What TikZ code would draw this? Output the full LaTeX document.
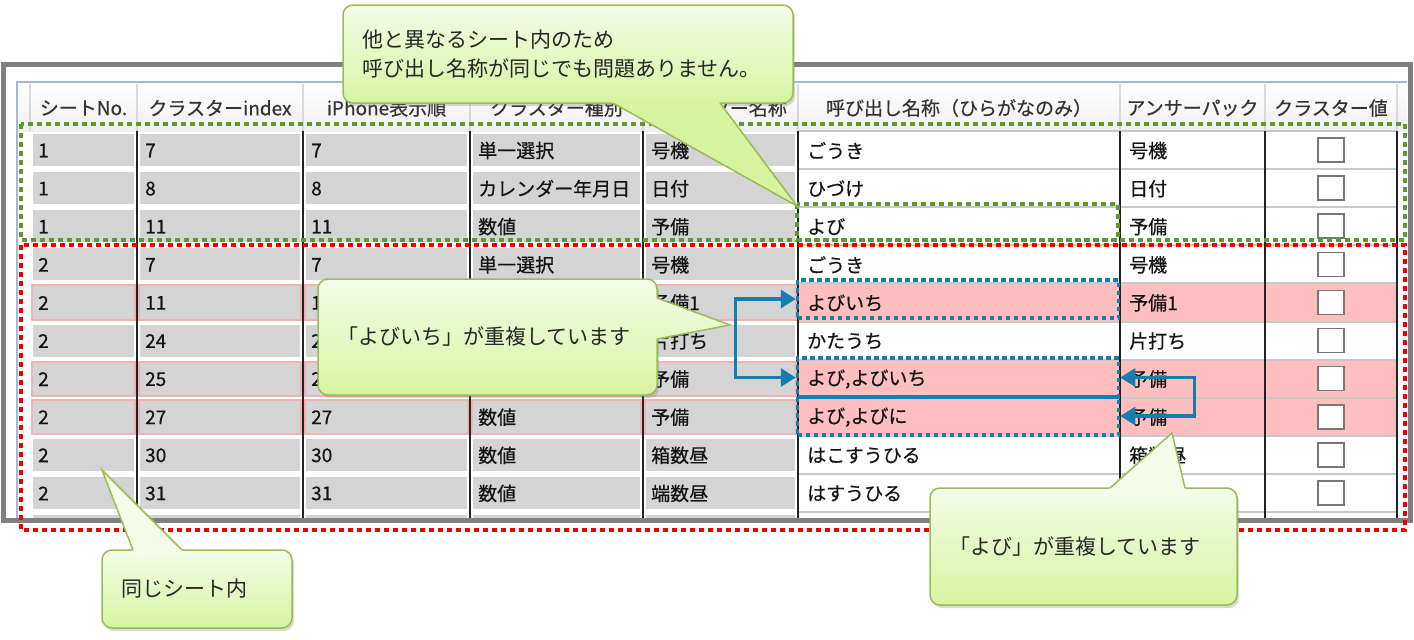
\documentclass[tikz,border=0pt]{standalone}
\usepackage{fontspec}
\setmainfont{Noto Sans CJK JP}
\newfontfamily\gridfont{Noto Sans CJK JP}[FakeBold=0.5]
\usepackage{xcolor}
\usepackage{tikz}
\usetikzlibrary{arrows.meta,positioning,shadows,calc}

\definecolor{framegray}{RGB}{128,128,128}
\definecolor{cellgray}{RGB}{212,212,212}
\definecolor{dupred}{RGB}{255,191,191}
\definecolor{dupedge}{RGB}{240,178,178}
\definecolor{linegray}{RGB}{200,200,200}
\definecolor{sepdark}{RGB}{35,35,35}
\definecolor{tableedge}{RGB}{165,185,205}
\definecolor{okgreen}{RGB}{92,154,44}
\definecolor{ngred}{RGB}{240,0,0}
\definecolor{dupblue}{RGB}{22,125,175}
\definecolor{boxgray}{RGB}{120,120,120}
\definecolor{hinttop}{RGB}{244,252,232}
\definecolor{hintbot}{RGB}{214,244,160}
\definecolor{hintline}{RGB}{155,187,89}
\colorlet{edge0}{white}
\colorlet{edge1}{dupedge}
\colorlet{back0}{white}
\colorlet{back1}{dupred}

\newcommand{\hintpointer}[4]{%
  \path[#4] ($(#1)!-5pt!(#2)$) -- (#2) -- ($(#3)!-5pt!(#2)$) -- cycle;
  \draw[draw=hintline, line width=1.5pt] (#1) -- (#2) -- (#3);}

\begin{document}
\begin{tikzpicture}
[x=1pt, y=-1pt,
 cell/.style={anchor=west, inner sep=0pt, text=black!92, font=\gridfont\fontsize{19pt}{22pt}\selectfont},
 head/.style={inner sep=0pt, text=black!80, font=\gridfont\fontsize{19pt}{22pt}\selectfont},
 graycell/.style={fill=cellgray, line width=2pt},
 chkbox/.style={draw=boxgray, fill=white, line width=1.6pt, minimum width=26pt, minimum height=24pt, inner sep=0pt},
 okzone/.style={draw=okgreen, line width=4pt, dash pattern=on 5pt off 4pt},
 ngzone/.style={draw=ngred, line width=4pt, dash pattern=on 5pt off 4pt},
 dupbox/.style={draw=dupblue, line width=3.5pt, dash pattern=on 4.5pt off 3.5pt, minimum width=321pt, minimum height=38pt, inner sep=0pt},
 duparrow/.style={draw=dupblue, line width=3.2pt, {Triangle[length=15pt,width=18pt]}-{Triangle[length=15pt,width=18pt]}},
 hint/.style={rectangle, rounded corners=10pt, draw=hintline, line width=1.5pt, top color=hinttop, bottom color=hintbot, drop shadow={shadow xshift=2pt, shadow yshift=-3pt, opacity=0.3}, align=left, inner xsep=19pt, inner ysep=0pt, text=black!85, font=\fontsize{21pt}{29pt}\selectfont}]
\useasboundingbox (0,0) rectangle (1414,640);

% window with the sheet table
\fill[white] (3,64) rectangle (1410,520);
\begin{scope}
\clip (5,66) rectangle (1408,518);
\shade[top color=white, bottom color=black!6] (17,82) rectangle (1407,131);
\foreach \x in {30,137,303,470,643,798,1120,1265,1397}
  \draw[black!15, line width=1.5pt] (\x,84) -- (\x,131);
\foreach \xl/\xr/\txt [count=\cn] in {30/137/シートNo.,137/303/クラスターindex,303/470/iPhone表示順,470/643/クラスター種別,643/798/クラスター名称,798/1120/呼び出し名称（ひらがなのみ）,1120/1265/アンサーパック,1265/1397/クラスター値}
  \node[head] (head\cn) at ({(\xl+\xr)/2},108) {\txt};

\foreach \row/\sh/\ix/\od/\kd/\nm/\cl/\an/\dup in {
  1/1/7/7/単一選択/号機/ごうき/号機/0,
  2/1/8/8/カレンダー年月日/日付/ひづけ/日付/0,
  3/1/11/11/数値/予備/よび/予備/0,
  4/2/7/7/単一選択/号機/ごうき/号機/0,
  5/2/11/11/{}/予備1/よびいち/予備1/1,
  6/2/24/24/{}/片打ち/かたうち/片打ち/0,
  7/2/25/25/{}/予備/{よび,よびいち}/予備/1,
  8/2/27/27/数値/予備/{よび,よびに}/予備/1,
  9/2/30/30/数値/箱数昼/はこすうひる/箱数昼/0,
  10/2/31/31/数値/端数昼/はすうひる/端数昼/0}{
  \pgfmathsetmacro\ytop{131+38.1*(\row-1)}
  \pgfmathsetmacro\ymid{\ytop+19.5}
  \fill[fill=back\dup] (798,\ytop) rectangle (1397,\ytop+38.1);
  \foreach \xl/\xr/\txt [count=\cn] in {30/137/\sh,137/303/\ix,303/470/\od,470/643/\kd,643/798/\nm}{
    \draw[graycell, draw=edge\dup] (\xl+2,\ytop+2) rectangle (\xr-2,\ytop+36.1);
    \node[cell] (c\row-\cn) at (\xl+8,\ymid) {\txt};
  }
  \node[cell] (c\row-6) at (807,\ymid) {\cl};
  \node[cell] (c\row-7) at (1129,\ymid) {\an};
  \node[chkbox] (chk\row) at (1331,\ymid-0.5) {};
}
\foreach \xl/\xr in {30/137,137/303,303/470,470/643,643/798}
  \draw[graycell, draw=white] (\xl+2,514.1) rectangle (\xr-2,550);
\foreach \row in {0,...,10}
  \draw[linegray, line width=2pt] (798,131+38.1*\row) -- (1397,131+38.1*\row);
\foreach \x in {137,303,470,643,798,1120,1265,1397}
  \draw[sepdark, line width=2pt] (\x,131) -- (\x,518);
\draw[tableedge, line width=1.5pt] (17,518) -- (17,82) -- (1407,82);
\end{scope}
\draw[framegray, line width=5pt] (3,64) rectangle (1410,520);

% sheet groups and duplicates
\draw[okzone] (21,124) rectangle (1405,240);
\draw[okzone] (797,204) rectangle (1118,240);
\draw[ngzone] (21,245) rectangle (1405,530);
\node[dupbox] (dupA) at (958,299) {};
\node[dupbox, minimum height=39pt] (dupB) at (958,377.5) {};
\node[dupbox] (dupC) at (958,416) {};
\draw[duparrow] (dupA.west) -- ++(-60,0) |- (dupB.west);
\draw[duparrow] (dupB.east) -- ++(74,0) |- (dupC.east);

% callouts
\node[hint, text width=412pt, minimum height=98pt] (hintA) at (568,54) {他と異なるシート内のため\\呼び出し名称が同じでも問題ありません。};
\hintpointer{613,103}{797,206}{720,103}{fill=hintbot}
\node[hint, text width=301pt, minimum height=116pt] (hintB) at (487.5,337) {「よびいち」が重複しています};
\hintpointer{657,298}{730,325}{657,339}{top color=hintbot!15!hinttop, bottom color=hintbot!52!hinttop}
\node[hint, text width=269pt, minimum height=117pt] (hintC) at (1083.5,546.5) {「よび」が重複しています};
\hintpointer{1110,488}{1172,433}{1185,488}{fill=hinttop}
\node[hint, text width=152pt, minimum height=78pt] (hintD) at (197,589) {同じシート内};
\hintpointer{133,550}{102,470}{182,550}{fill=hinttop}
\end{tikzpicture}
\end{document}
